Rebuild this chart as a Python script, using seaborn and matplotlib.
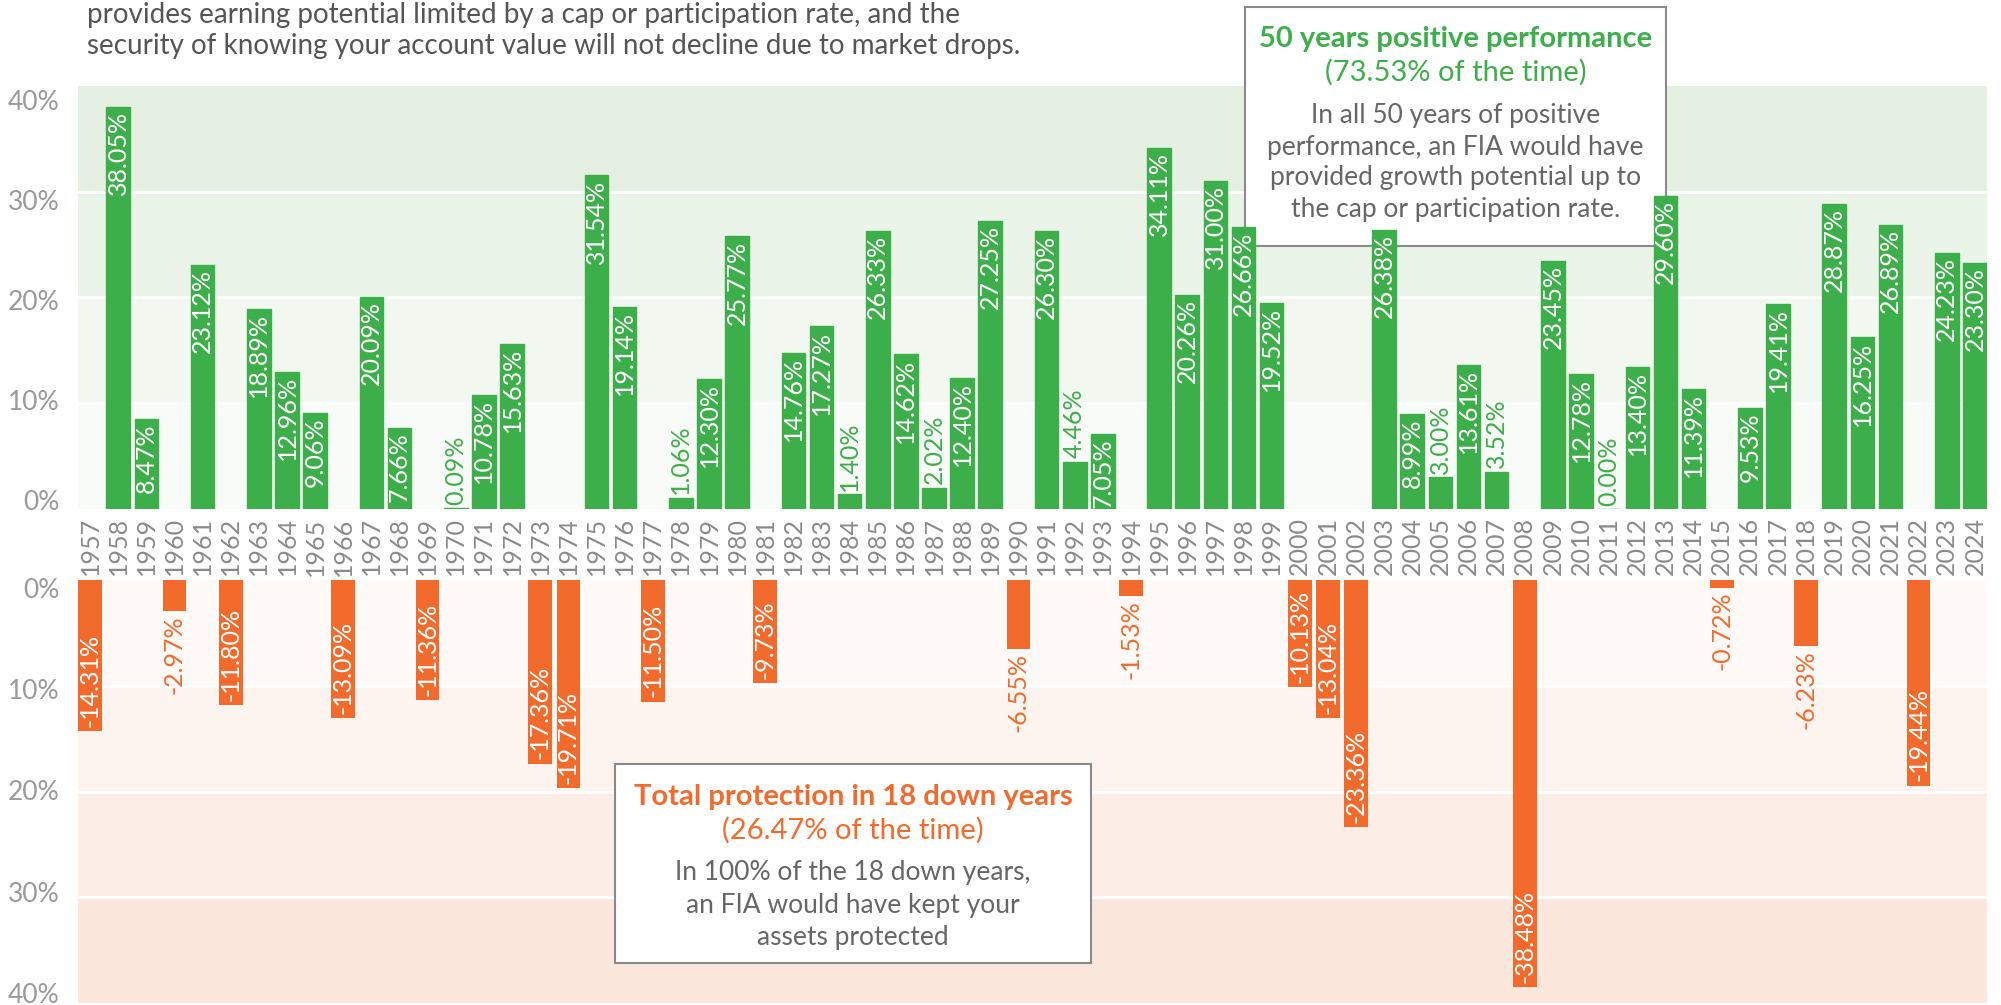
import matplotlib
matplotlib.use("Agg")
import matplotlib.pyplot as plt
import seaborn as sns
import pandas as pd
from matplotlib.patches import Rectangle
from matplotlib.ticker import FuncFormatter

# ---------------- data ----------------
years = list(range(1957, 2025))
returns = [
    -14.31, 38.05, 8.47, -2.97, 23.12, -11.80, 18.89, 12.96, 9.06, -13.09,
    20.09, 7.66, -11.36, 0.09, 10.78, 15.63, -17.36, -19.71, 31.54, 19.14,
    -11.50, 1.06, 12.30, 25.77, -9.73, 14.76, 17.27, 1.40, 26.33, 14.62,
    2.02, 12.40, 27.25, -6.55, 26.30, 4.46, 7.05, -1.53, 34.11, 20.26,
    31.00, 26.66, 19.52, -10.13, -13.04, -23.36, 26.38, 8.99, 3.00, 13.61,
    3.52, -38.48, 23.45, 12.78, 0.00, 13.40, 29.60, 11.39, -0.72, 9.53,
    19.41, -6.23, 28.87, 16.25, 26.89, -19.44, 24.23, 23.30,
]
y_ticks = [0, 10, 20, 30, 40]

intro_lines = [
    "provides earning potential limited by a cap or participation rate, and the",
    "security of knowing your account value will not decline due to market drops.",
]
pos_title = "50 years positive performance"
pos_sub = "(73.53% of the time)"
pos_body = ["In all 50 years of positive", "performance, an FIA would have",
            "provided growth potential up to", "the cap or participation rate."]
neg_title = "Total protection in 18 down years"
neg_sub = "(26.47% of the time)"
neg_body = ["In 100% of the 18 down years,", "an FIA would have kept your",
            "assets protected"]

# ---------------- style ----------------
GREEN = "#3DAF4A"
ORANGE = "#F26A2C"
GREY_TXT = "#666666"
TICK_GREY = "#9a9a9a"
YEAR_GREY = "#8a8a8a"
top_bands = ["#F9FBF8", "#F2F8F0", "#EBF4E8", "#E5F0E3"]
bot_bands = ["#FFFAF7", "#FDF4EF", "#FCEEE6", "#FBE7DC"]

sns.set_style("white")
plt.rcParams["font.family"] = ["Lato", "DejaVu Sans"]

W, H = 2001, 1005
fig = plt.figure(figsize=(W / 100, H / 100), dpi=100)


def px_rect(x0, y0, x1, y1):
    return [x0 / W, 1 - y1 / H, (x1 - x0) / W, (y1 - y0) / H]


TOP_RECT = px_rect(78, 86, 1987, 509)
BOT_RECT = px_rect(78, 580, 1987, 1003)
ax_top = fig.add_axes(TOP_RECT)
ax_bot = fig.add_axes(BOT_RECT)

df = pd.DataFrame({"year": [str(y) for y in years], "ret": returns})
order = df["year"].tolist()
df_up = df[df["ret"] >= 0]
df_dn = df[df["ret"] < 0]

BW = 0.84
sns.barplot(data=df_up, x="year", y="ret", order=order, ax=ax_top,
            color=GREEN, saturation=1, width=BW, errorbar=None,
            edgecolor=GREEN, linewidth=1.0, zorder=3)
sns.barplot(data=df_dn, x="year", y="ret", order=order, ax=ax_bot,
            color=ORANGE, saturation=1, width=BW, errorbar=None,
            linewidth=0, zorder=3)

xlim = (-0.43, len(years) - 1 + 0.43)

# backgrounds
for i, c in enumerate(top_bands):
    ax_top.axhspan(i * 10, (i + 1) * 10, color=c, lw=0, zorder=0)
for i, c in enumerate(bot_bands):
    ax_bot.axhspan(-i * 10, -(i + 1) * 10, color=c, lw=0, zorder=0)
for v in [10, 20, 30]:
    ax_top.axhline(v, color="white", lw=2.2, zorder=1)
    ax_bot.axhline(-v, color="white", lw=2.2, zorder=1)

ax_top.set_ylim(0, 40)
ax_bot.set_ylim(-40, 0)
for ax in (ax_top, ax_bot):
    ax.set_xlim(*xlim)
    ax.set_xlabel("")
    ax.set_ylabel("")
    for s in ax.spines.values():
        s.set_visible(False)
    ax.set_facecolor("none")
    ax.tick_params(axis="y", left=False, labelleft=False)

# y tick labels: in the reference they sit on an evenly spaced scale
# slightly inset from the band edges, so they get their own label axes.
fmt = FuncFormatter(lambda v, p: f"{abs(v):.0f}%")
lbl_top = fig.add_axes(TOP_RECT, frameon=False, zorder=-1)
lbl_top.set_ylim(-0.9, 41.4)
lbl_top.set_yticks(y_ticks)
lbl_bot = fig.add_axes(BOT_RECT, frameon=False, zorder=-1)
lbl_bot.set_ylim(-40.99, 0.79)
lbl_bot.set_yticks([-t for t in y_ticks])
for ax in (lbl_top, lbl_bot):
    ax.set_xticks([])
    ax.yaxis.set_major_formatter(fmt)
    ax.tick_params(axis="y", length=0, pad=13, labelsize=19,
                   labelcolor=TICK_GREY)

ax_top.set_xticks(range(len(years)))
ax_top.set_xticklabels([str(y) for y in years], rotation=90, fontsize=18,
                       color=YEAR_GREY)
ax_top.tick_params(axis="x", length=0, pad=6)
ax_bot.set_xticks([])

# value labels
for i, v in enumerate(returns):
    lab = f"{v:.2f}%"
    if v >= 0:
        if v >= 6:
            ax_top.annotate(lab, (i, v), xytext=(0, -3), textcoords="offset points",
                            rotation=90, ha="center", va="top", color="white",
                            fontsize=18, zorder=5)
        else:
            ax_top.annotate(lab, (i, v), xytext=(0, 2.5), textcoords="offset points",
                            rotation=90, ha="center", va="bottom", color=GREEN,
                            fontsize=18, zorder=5)
    else:
        if v <= -8:
            ax_bot.annotate(lab, (i, v), xytext=(0, 3), textcoords="offset points",
                            rotation=90, ha="center", va="bottom", color="white",
                            fontsize=18, zorder=5)
        else:
            ax_bot.annotate(lab, (i, v), xytext=(0, -3), textcoords="offset points",
                            rotation=90, ha="center", va="top", color=ORANGE,
                            fontsize=18, zorder=5)

# intro text
for k, line in enumerate(intro_lines):
    fig.text(87 / W, 1 - (15 + 31 * k) / H, line, ha="left", va="center",
             fontsize=20, color="#555555")


# boxes (drawn beneath the bars, as in the reference)
def draw_box(ax, x0, y0, x1, y1, title, sub, body, color, ys):
    rect = Rectangle((x0 / W, 1 - y1 / H), (x1 - x0) / W, (y1 - y0) / H,
                     transform=fig.transFigure, facecolor="white",
                     edgecolor="#8a8a8a", lw=1.5, zorder=2, clip_on=False)
    ax.add_patch(rect)
    cx = (x0 + x1) / 2 / W
    fig.text(cx, 1 - ys[0] / H, title, ha="center", va="center", fontsize=21,
             fontweight="bold", color=color, zorder=11)
    fig.text(cx, 1 - ys[1] / H, sub, ha="center", va="center", fontsize=21,
             color=color, zorder=11)
    for j, line in enumerate(body):
        fig.text(cx, 1 - ys[2 + j] / H, line, ha="center", va="center",
                 fontsize=19, color=GREY_TXT, zorder=11)


draw_box(ax_top, 1245, 7, 1666, 246, pos_title, pos_sub, pos_body, GREEN,
         [39, 72, 115, 147, 178, 210])
draw_box(ax_bot, 615, 764, 1091, 963, neg_title, neg_sub, neg_body, ORANGE,
         [797, 830, 872, 905, 937])

fig.savefig("out.png", dpi=100)
